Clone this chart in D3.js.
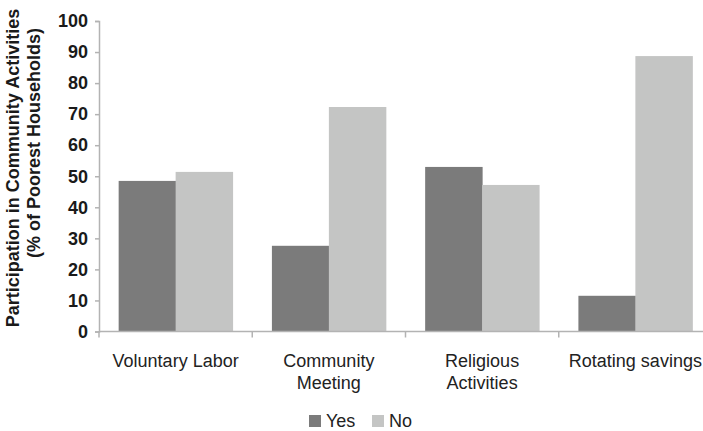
<!DOCTYPE html>
<html lang="en">
<head>
  <meta charset="UTF-8">
  <title>Participation in Community Activities</title>
  <script src="https://d3js.org/d3.v7.min.js"></script>
  <style>
    body, html {
      margin: 0;
      padding: 0;
      background: #fff;
      overflow: hidden;
    }
    svg {
      display: block;
      font-family: "Liberation Sans", Arial, sans-serif;
    }
    .ylab text {
      font-size: 18px;
      font-weight: bold;
      fill: #1a1a1a;
    }
  </style>
</head>
<body>
  <svg id="chart" width="703" height="431"></svg>

  <script>
    // data
    const categories = [["Voluntary Labor"], ["Community", "Meeting"], ["Religious", "Activities"], ["Rotating savings"]];
    const seriesNames = ["Yes", "No"];
    const yesValues = [48.5, 27.6, 53.0, 11.5];
    const noValues = [51.4, 72.3, 47.2, 88.7];
    const yTicks = [0, 10, 20, 30, 40, 50, 60, 70, 80, 90, 100];

    const colors = { Yes: "#7b7b7b", No: "#c4c5c4" };
    const axisColor = "#b3b3b3";

    const svg = d3.select("#chart");
    const catKeys = categories.map(c => c.join(" "));

    const x0 = d3.scaleBand().domain(catKeys).range([99, 712]).paddingInner(0).paddingOuter(0);
    const x1 = d3.scaleBand().domain(seriesNames).range([0, x0.bandwidth()]).paddingInner(0).paddingOuter(0.345);
    const y = d3.scaleLinear().domain([0, 100]).range([331.5, 21]);

    // y axis
    const yAxis = svg.append("g")
      .attr("class", "ylab")
      .attr("transform", "translate(99,0)")
      .call(d3.axisLeft(y).tickValues(yTicks).tickSize(4).tickPadding(7).tickFormat(d3.format("d")));
    yAxis.select(".domain").attr("stroke", axisColor).attr("stroke-width", 1.5);
    yAxis.selectAll(".tick line").attr("stroke", axisColor).attr("stroke-width", 1.5);
    yAxis.selectAll("text").attr("font-family", null).attr("font-size", null);

    // bars
    const rows = catKeys.map((k, i) => ({ key: k, Yes: yesValues[i], No: noValues[i] }));
    const groups = svg.append("g").selectAll("g")
      .data(rows)
      .join("g")
      .attr("transform", d => `translate(${x0(d.key)},0)`);

    groups.selectAll("rect")
      .data(d => seriesNames.map(s => ({ s, v: d[s] })))
      .join("rect")
      .attr("x", d => x1(d.s))
      .attr("width", x1.bandwidth() + 0.5)
      .attr("y", d => y(d.v))
      .attr("height", d => y(0) - y(d.v))
      .attr("fill", d => colors[d.s]);

    // x axis line and category boundary ticks
    svg.append("line")
      .attr("x1", 99).attr("x2", 712)
      .attr("y1", y(0)).attr("y2", y(0))
      .attr("stroke", axisColor).attr("stroke-width", 1.5);

    const bounds = catKeys.map(k => x0(k)).concat([x0.range()[1]]);
    svg.append("g").selectAll("line")
      .data(bounds)
      .join("line")
      .attr("x1", d => d).attr("x2", d => d)
      .attr("y1", y(0)).attr("y2", y(0) + 6)
      .attr("stroke", axisColor).attr("stroke-width", 1.5);

    // category labels
    const catText = svg.append("g").selectAll("text")
      .data(categories)
      .join("text")
      .attr("x", (d, i) => x0(catKeys[i]) + x0.bandwidth() / 2)
      .attr("y", 367)
      .attr("text-anchor", "middle")
      .attr("font-size", 18)
      .attr("fill", "#222");
    catText.selectAll("tspan")
      .data(d => d)
      .join("tspan")
      .attr("x", function () { return this.parentNode.getAttribute("x"); })
      .attr("dy", (d, i) => i === 0 ? 0 : 22)
      .text(d => d);

    // y axis title
    const titleLines = [
      { text: "Participation in Community Activities", x: 19, y: 168 },
      { text: "(% of Poorest Households)", x: 40, y: 143 }
    ];
    svg.append("g").selectAll("text")
      .data(titleLines)
      .join("text")
      .attr("transform", d => `translate(${d.x},${d.y}) rotate(-90)`)
      .attr("text-anchor", "middle")
      .attr("font-size", 18)
      .attr("font-weight", "bold")
      .attr("fill", "#1a1a1a")
      .text(d => d.text);

    // legend
    const legendX = [309, 372];
    const legend = svg.append("g").selectAll("g")
      .data(seriesNames)
      .join("g")
      .attr("transform", (d, i) => `translate(${legendX[i]},415)`);
    legend.append("rect")
      .attr("width", 12).attr("height", 12)
      .attr("fill", d => colors[d]);
    legend.append("text")
      .attr("x", 17).attr("y", 12)
      .attr("font-size", 18)
      .attr("fill", "#222")
      .text(d => d);
  </script>
</body>
</html>
